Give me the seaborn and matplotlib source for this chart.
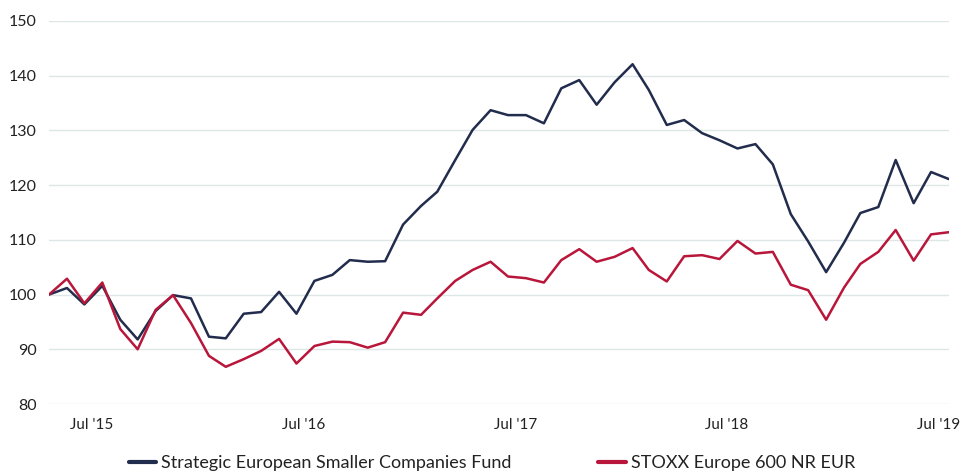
import matplotlib
matplotlib.use("Agg")
import matplotlib.pyplot as plt
import seaborn as sns
import pandas as pd

# Monthly values, indexed to 100 at start (May 2015 .. Jul 2019)
fund = [100.0, 101.2, 98.2, 101.6, 95.4, 91.8, 97.0, 99.9, 99.3, 92.3,
        92.0, 96.5, 96.8, 100.5, 96.5, 102.5, 103.6, 106.3, 106.0, 106.1,
        112.8, 116.2, 118.8, 124.6, 130.1, 133.7, 132.8, 132.8, 131.3, 137.7,
        139.2, 134.7, 138.8, 142.1, 137.4, 131.0, 131.9, 129.5, 128.2, 126.7,
        127.5, 123.8, 114.7, 109.7, 104.1, 109.5, 114.9, 116.0, 124.6, 116.7,
        122.4, 121.1]
index = [100.0, 102.9, 98.4, 102.2, 93.7, 90.0, 97.2, 99.9, 94.8, 88.8,
         86.8, 88.2, 89.7, 91.9, 87.4, 90.6, 91.4, 91.3, 90.3, 91.3,
         96.7, 96.3, 99.3, 102.5, 104.5, 106.0, 103.3, 103.0, 102.2, 106.3,
         108.3, 106.0, 106.9, 108.5, 104.5, 102.4, 107.0, 107.2, 106.5, 109.8,
         107.5, 107.8, 101.8, 100.8, 95.4, 101.3, 105.6, 107.8, 111.8, 106.2,
         111.0, 111.4]
series_names = ["Strategic European Smaller Companies Fund", "STOXX Europe 600 NR EUR"]
tick_labels = ["Jul '15", "Jul '16", "Jul '17", "Jul '18", "Jul '19"]
y_ticks = [80, 90, 100, 110, 120, 130, 140, 150]

colors = ["#222c4c", "#b8163a"]

dates = pd.date_range("2015-04-30", periods=len(fund), freq="ME")
df = pd.DataFrame({"date": list(dates) * 2,
                   "value": fund + index,
                   "series": [series_names[0]] * len(fund) + [series_names[1]] * len(index)})

sns.set_style("white")
plt.rcParams["font.family"] = ["Lato", "DejaVu Sans"]

fig = plt.figure(figsize=(9.65, 4.73), dpi=100)
ax = fig.add_axes([49 / 965, 1 - 404 / 473, 900 / 965, 383 / 473])

sns.lineplot(data=df, x="date", y="value", hue="series", palette=colors,
             linewidth=1.8, ax=ax, legend=False)

ax.set_xlim(dates[0], dates[-1])
ax.set_ylim(80, 150)
ax.set_yticks(y_ticks)
ax.set_yticklabels([str(v) for v in y_ticks], fontsize=11.5, color="#222222")
tick_dates = [pd.Timestamp(f"{y}-07-13") for y in range(2015, 2020)]
ax.set_xticks(tick_dates)
ax.set_xticklabels(tick_labels, fontsize=11, color="#222222")
ax.tick_params(axis="both", length=0)
ax.tick_params(axis="x", pad=10)
ax.tick_params(axis="y", pad=9)
ax.grid(axis="y", color="#dde7e7", linewidth=1)
ax.set_axisbelow(True)
for s in ax.spines.values():
    s.set_visible(False)
ax.set_xlabel("")
ax.set_ylabel("")

handles = [plt.Line2D([], [], color=c, linewidth=3) for c in colors]
fig.legend(handles, series_names, loc="center", bbox_to_anchor=(0.51, 1 - 463 / 473),
           ncol=2, frameon=False, fontsize=13, handlelength=1.5, handletextpad=0.3,
           columnspacing=4.8, labelcolor="#222222")

fig.savefig("out.png", dpi=100)
